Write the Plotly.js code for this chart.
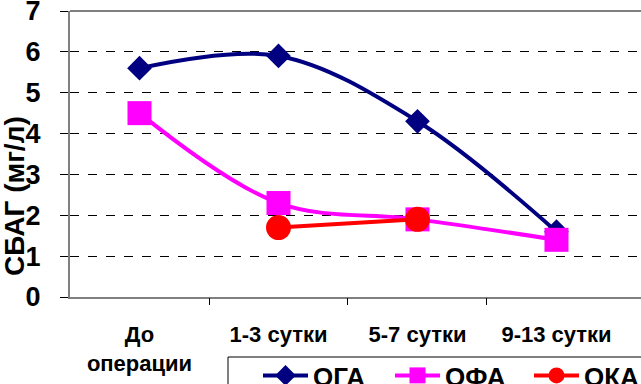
<!DOCTYPE html>
<html><head><meta charset="utf-8">
<script src="https://cdn.plot.ly/plotly-3.0.1.min.js"></script>
<style>body{margin:0;padding:0;background:#fff}#chart{width:641px;height:384px}</style>
</head><body><div id="chart"></div>
<script>
const categories = ["До<br>операции", "1-3 сутки", "5-7 сутки", "9-13 сутки"];
const seriesNames = ["ОГА", "ОФА", "ОКА"];
const oga = [5.6, 5.9, 4.3, 1.6];
const ofa = [4.5, 2.3, 1.9, 1.4];
const oka = [null, 1.7, 1.9, null];
const yTicks = [0, 1, 2, 3, 4, 5, 6, 7];
const yTitle = 'СБАГ (мг/л)';

const xIdx = categories.map((c, i) => i);
const F = "Arial, 'Liberation Sans', sans-serif";

const traces = [
  {x: xIdx, y: oga, name: seriesNames[0], type: 'scatter', mode: 'lines+markers', legend: 'legend',
   line: {color: '#000080', width: 4, shape: 'spline', smoothing: 1},
   marker: {symbol: 'diamond', size: 19, color: '#000080'}},
  {x: xIdx, y: ofa, name: seriesNames[1], type: 'scatter', mode: 'lines+markers', legend: 'legend2',
   line: {color: '#FF00FF', width: 4, shape: 'spline', smoothing: 1},
   marker: {symbol: 'square', size: 24, color: '#FF00FF'}},
  {x: xIdx, y: oka, name: seriesNames[2], type: 'scatter', mode: 'lines+markers', legend: 'legend3',
   line: {color: '#FF0000', width: 4, shape: 'spline', smoothing: 1},
   marker: {symbol: 'circle', size: 25, color: '#FF0000'}},
  {x: [0.5], y: [null], xaxis: 'x2', showlegend: false, hoverinfo: 'skip', mode: 'markers'}
];

// pixel -> paper helpers (plot area: left 70, width 571, top 11, height 286)
const px = v => (v - 70) / 571;
const py = v => (297 - v) / 286;

const legendBase = x => ({
  orientation: 'h', x: px(x), xanchor: 'left', y: py(352), yanchor: 'top',
  borderwidth: 0, bgcolor: 'rgba(0,0,0,0)',
  font: {family: F, size: 26, color: '#000', weight: 'bold'},
  itemwidth: 45
});

const layout = {
  width: 641, height: 384,
  margin: {l: 70, r: 0, t: 11, b: 87, autoexpand: false},
  paper_bgcolor: '#fff', plot_bgcolor: '#fff',
  showlegend: true,
  xaxis: {
    range: [-0.5, 3.608], tickvals: xIdx, ticktext: categories,
    showgrid: false, zeroline: false, ticks: '',
    showline: true, linecolor: '#808080', linewidth: 2, mirror: false,
    tickfont: {family: F, size: 22, color: '#000', weight: 'bold'}, ticklabelstandoff: 17,
    ticklabeloverflow: 'allow'
  },
  xaxis2: {
    overlaying: 'x', anchor: 'y', side: 'bottom',
    range: [-0.5, 3.608], tickvals: [0.5, 1.5, 2.5], ticktext: ['', '', ''],
    ticks: 'outside', ticklen: 7, tickcolor: '#000', tickwidth: 1,
    showgrid: false, zeroline: false, showline: false
  },
  yaxis: {
    range: [0, 7], tickvals: yTicks, ticktext: yTicks.map(String),
    showgrid: true, gridcolor: '#000', griddash: 'dash', gridwidth: 1,
    zeroline: false, showline: true, linecolor: '#808080', linewidth: 2,
    ticks: 'outside', ticklen: 8, tickcolor: '#000', ticklabeloverflow: 'allow',
    tickfont: {family: F, size: 27, color: '#000', weight: 'bold'}, ticklabelstandoff: 14
  },
  annotations: [
    {text: yTitle, xref: 'paper', yref: 'paper', x: px(14), y: py(196),
     xanchor: 'center', yanchor: 'middle', textangle: -90, showarrow: false,
     font: {family: F, size: 28, color: '#000', weight: 'bold'}}
  ],
  shapes: [
    {type: 'line', xref: 'paper', yref: 'paper', x0: 0, x1: 1.1, y0: 1, y1: 1,
     line: {color: '#808080', width: 2}},
    {type: 'rect', xref: 'paper', yref: 'paper', x0: px(228), x1: px(700), y0: py(357), y1: py(420),
     line: {color: '#000', width: 1}, fillcolor: 'rgba(0,0,0,0)'}
  ],
  legend: legendBase(258),
  legend2: legendBase(390),
  legend3: legendBase(529)
};

Plotly.newPlot('chart', traces, layout, {displayModeBar: false, staticPlot: true});
</script>
</body></html>
